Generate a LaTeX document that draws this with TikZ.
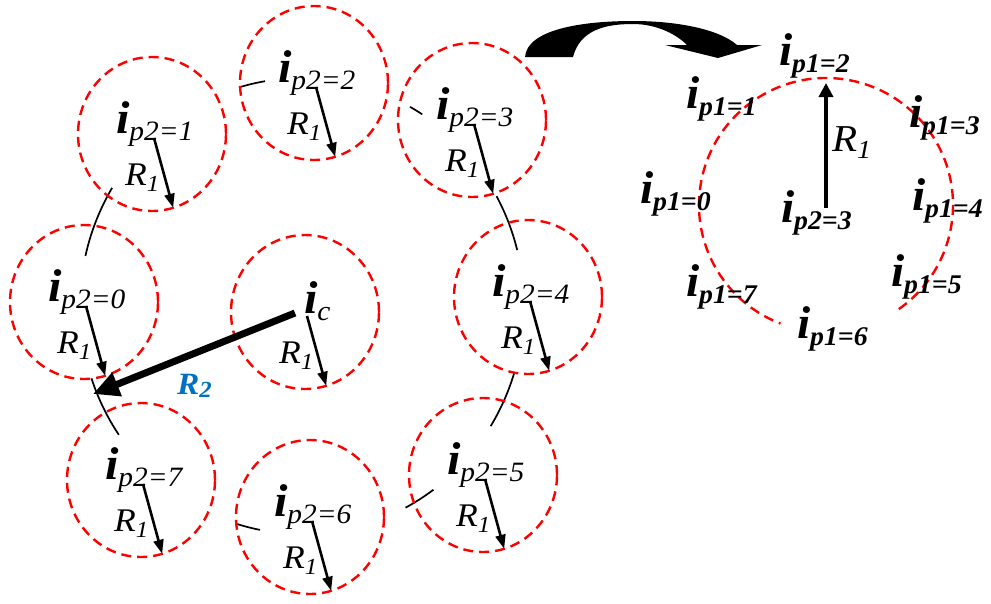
\documentclass[tikz,border=0pt]{standalone}
\usepackage{graphicx}
\usepackage{fontspec}
\setmainfont{LiberationSerif}[Extension=.ttf,UprightFont=*-Regular,BoldFont=*-Bold,ItalicFont=*-Italic,BoldItalicFont=*-BoldItalic]
\usetikzlibrary{shapes.geometric,arrows.meta,calc}
\definecolor{rblue}{RGB}{0,112,192}
\newcommand{\labI}[1]{\scalebox{1.05}[1]{\fontsize{46}{46}\selectfont\bfseries\itshape i\raisebox{-7pt}{\fontsize{28}{28}\selectfont\mdseries #1}}}
\newcommand{\labJ}[1]{\scalebox{1.03}[1]{\fontsize{46}{46}\selectfont\bfseries\itshape i\raisebox{-7pt}{\fontsize{27}{27}\selectfont #1}}}
\newcommand{\labR}{\scalebox{1.08}[1]{\fontsize{33}{33}\selectfont\itshape R\raisebox{-6pt}{\fontsize{23}{23}\selectfont 1}}}
\newcommand{\labRbig}{\scalebox{1.08}[1]{\fontsize{38}{38}\selectfont\itshape R\raisebox{-7pt}{\fontsize{26}{26}\selectfont 1}}}
\begin{document}
\begin{tikzpicture}[x=1pt,y=1pt,
  circ/.style={ellipse,draw=red,line width=2.4pt,dash pattern=on 10pt off 6pt,minimum width=148pt,minimum height=154pt,inner sep=0pt,outer sep=0pt},
  reddash/.style={draw=red,line width=2.4pt,dash pattern=on 10pt off 6pt},
  lab/.style={anchor=base west,inner sep=0pt,outer sep=0pt},
  r1arrow/.style={-{Triangle[length=14pt,width=10pt]},line width=2.6pt},
  orbit/.style={line width=1.7pt}]
\useasboundingbox (0,0) rectangle (991,-603);
% orbit pieces
\coordinate (oc) at (302,-306);
\foreach \a/\b in {106.5/99.6, 60.9/57.2, 28.8/14.2, -17.2/-31.8, -53.7/-62.2, -100.9/-107.2, -145.6/-161.5, 148.8/167.3}{
  \draw[orbit] ($(oc)+(\a:222 and 228)$) arc[start angle=\a,end angle=\b,x radius=222,y radius=228];
}
% satellite circles
\foreach \n/\x/\y/\t in {c0/84/302/p2=0, c1/152/134/p2=1, c2/314/83/p2=2, c3/472/120/p2=3, c4/528/297/p2=4, c5/483/475/p2=5, c6/310/517/p2=6, c7/141/480/p2=7}{
  \node[circ] (\n) at (\x,-\y) {};
  \node[lab] (\n-i) at ($(\n)+(-36,1)$) {\labI{\t}};
  \node[lab] (\n-r) at ($(\n)+(-27,-51)$) {\labR};
  \draw[r1arrow] ($(\n)+(2,-4)$) -- (\n.-74);
}
% centre circle
\node[circ] (cc) at (305,-312) {};
\node[lab] (cc-i) at ($(cc)+(-1,-1)$) {\labI{c}};
\node[lab] (cc-r) at ($(cc)+(-26,-51)$) {\labR};
\draw[r1arrow] ($(cc)+(2,-4)$) -- (cc.-74);
% R2 arrow
\coordinate (r2s) at (295,-313);
\coordinate (r2e) at (93,-394);
\draw[line width=7pt,-{Triangle[length=26pt,width=24pt]}] (r2s) -- (r2e);
\node[lab,text=rblue] (r2) at (177,-394) {\scalebox{1.08}[1]{\fontsize{31}{31}\selectfont\bfseries\itshape R\raisebox{-3pt}{\fontsize{23}{23}\selectfont 2}}};
% curved block arrow
\fill (525,-57) .. controls (527,-30) and (580,-21) .. (633,-21) .. controls (680,-21) and (720,-30) .. (737,-45) -- (762,-45) -- (718,-58) -- (665,-45) -- (687,-45) .. controls (675,-33) and (655,-24) .. (633,-24) .. controls (605,-24) and (580,-30) .. (573,-57) -- cycle;
% right detail
\coordinate (pc) at (826,-205);
\draw[reddash] ($(pc)+(-55:127)$) arc[start angle=-55,end angle=249,radius=127];
\coordinate (pcs) at (826,-208);
\coordinate (pct) at (826,-83);
\draw[line width=3.5pt,-{Triangle[length=14pt,width=14pt]}] (pcs) -- (pct);
\node[lab] (rR) at (832,-151) {\labRbig};
\foreach \n/\x/\y/\t in {q2/779/65/p1=2, q1/686/108/p1=1, q3/909/127/p1=3, q0/640/203/p1=0, qc/781/222/p2=3, q4/912/210/p1=4, q7/686/296/p1=7, q5/891/286/p1=5, q6/797/338/p1=6}{
  \node[lab] (\n) at (\x,-\y) {\labJ{\t}};
}
\end{tikzpicture}
\end{document}
